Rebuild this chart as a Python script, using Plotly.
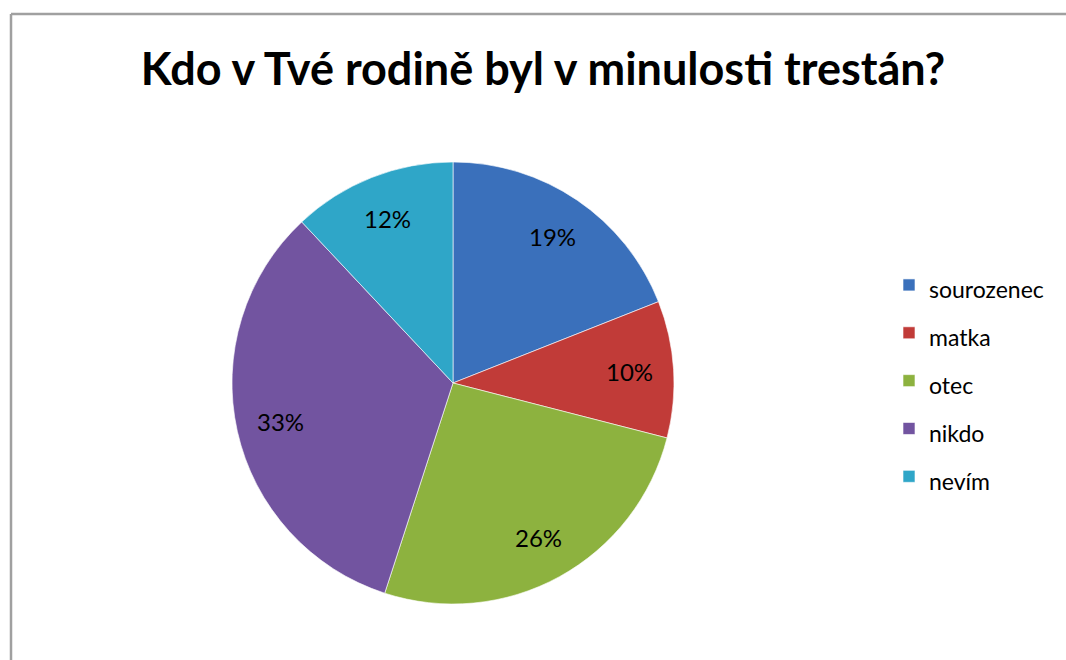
import math
import plotly.graph_objects as go

title = "Kdo v Tvé rodině byl v minulosti trestán?"
categories = ["sourozenec", "matka", "otec", "nikdo", "nevím"]
values = [19, 10, 26, 33, 12]
colors = ["#3a70bb", "#c13b38", "#8db23f", "#7254a0", "#2fa6c8"]

W, H = 1066, 660
cx, cy, R = 453, 383, 221

fig = go.Figure()
fig.add_trace(go.Pie(
    labels=[f"<span style='font-size:23px'>{c}</span>" for c in categories],
    values=values,
    sort=False,
    direction="clockwise",
    rotation=0,
    marker=dict(colors=colors, line=dict(color="rgba(255,255,255,0.6)", width=1)),
    textinfo="none",
    hoverinfo="label+percent",
    domain=dict(x=[(cx - R) / W, (cx + R) / W], y=[1 - (cy + R) / H, 1 - (cy - R) / H]),
    showlegend=True,
))

# percentage labels placed along the bisector of each slice
total = sum(values)
cum = 0
annotations = []
for v in values:
    mid = (cum + v / 2) / total * 2 * math.pi
    cum += v
    x = cx + 0.8 * R * math.sin(mid)
    y = cy - 0.8 * R * math.cos(mid)
    annotations.append(dict(
        x=x / W, y=1 - y / H, xref="paper", yref="paper",
        text=f"{round(v / total * 100)}%", showarrow=False,
        font=dict(family="Lato", size=24, color="#000000"),
        xanchor="center", yanchor="middle",
    ))

fig.update_layout(
    width=W, height=H,
    margin=dict(l=0, r=0, t=0, b=0),
    paper_bgcolor="white",
    plot_bgcolor="white",
    title=dict(text=f"<b>{title}</b>", x=543 / W, xanchor="center", y=1 - 69 / H, yanchor="middle",
               font=dict(family="Lato", size=45, color="#000000")),
    legend=dict(
        x=889 / W, xanchor="left", y=1 - 381 / H, yanchor="middle",
        font=dict(family="Lato", size=34.5, color="#000000"),
        bgcolor="rgba(0,0,0,0)",
    ),
    annotations=annotations,
    shapes=[
        dict(type="line", xref="paper", yref="paper",
             x0=11 / W, x1=11 / W, y0=0, y1=1 - 14 / H,
             line=dict(color="#a0a0a0", width=2.5), layer="below"),
        dict(type="line", xref="paper", yref="paper",
             x0=11 / W, x1=1, y0=1 - 14 / H, y1=1 - 14 / H,
             line=dict(color="#a0a0a0", width=2.5), layer="below"),
    ],
)

fig.write_html(
    "out.html",
    config={"displayModeBar": False},
    post_script=(
        "document.body.style.margin='0';document.body.style.overflow='hidden';"
        "document.documentElement.style.overflow='hidden';"
    ),
)
